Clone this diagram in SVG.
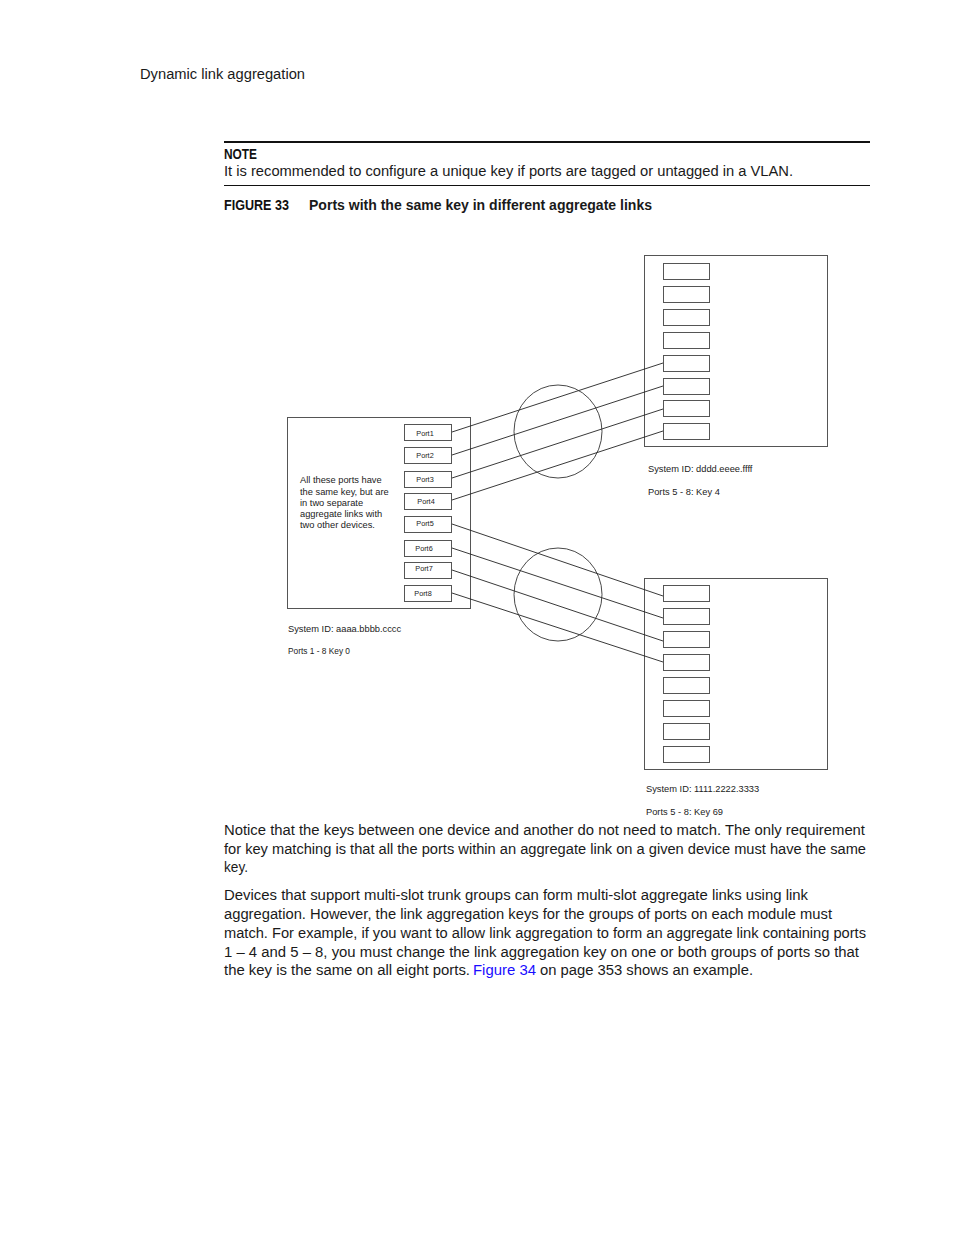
<svg xmlns="http://www.w3.org/2000/svg" width="954" height="1235" viewBox="0 0 954 1235">
<style>
.pg{font-family:"Liberation Sans",Arial,sans-serif;font-size:14px;fill:#1a1a1a}
.hd{font-family:"Liberation Sans Narrow","Liberation Sans",Arial,sans-serif;font-weight:bold;font-size:14px;fill:#111}
.sm{font-family:"Liberation Sans",Arial,sans-serif;font-size:9.3px;fill:#222}
.pl{font-family:"Liberation Sans",Arial,sans-serif;font-size:7.3px;fill:#222;text-anchor:middle}
.box{fill:#fff;stroke:#555;stroke-width:1}
.port{fill:#fff;stroke:#555;stroke-width:1}
.ln{stroke:#222;stroke-width:0.9;fill:none}
.lnk{fill:#1a0dff}
</style>
<rect width="954" height="1235" fill="#fff"/>
<text class="pg" x="140" y="79" textLength="165" lengthAdjust="spacingAndGlyphs">Dynamic link aggregation</text>
<line x1="224" y1="142" x2="870" y2="142" stroke="#111" stroke-width="2"/>
<text class="hd" x="224" y="159" textLength="33" lengthAdjust="spacingAndGlyphs">NOTE</text>
<text class="pg" x="224" y="176" textLength="569" lengthAdjust="spacingAndGlyphs">It is recommended to configure a unique key if ports are tagged or untagged in a VLAN.</text>
<line x1="224" y1="185.5" x2="870" y2="185.5" stroke="#111" stroke-width="1"/>
<text class="hd" x="224" y="210" textLength="65" lengthAdjust="spacingAndGlyphs">FIGURE 33</text>
<text class="pg" x="309" y="210" font-weight="bold" textLength="343" lengthAdjust="spacingAndGlyphs">Ports with the same key in different aggregate links</text>

<g id="left-device">
<rect class="box" x="287.5" y="417.5" width="183" height="191"/>
<text class="sm" x="300" y="483">All these ports have</text>
<text class="sm" x="300" y="494.5">the same key, but are</text>
<text class="sm" x="300" y="506">in two separate</text>
<text class="sm" x="300" y="517">aggregate links with</text>
<text class="sm" x="300" y="528">two other devices.</text>
<rect class="port" x="404.5" y="424.5" width="47" height="16"/><text class="pl" x="425" y="436">Port1</text>
<rect class="port" x="404.5" y="447.5" width="47" height="16"/><text class="pl" x="425" y="458">Port2</text>
<rect class="port" x="404.5" y="471.5" width="47" height="16"/><text class="pl" x="425" y="482">Port3</text>
<rect class="port" x="404.5" y="493.5" width="47" height="16"/><text class="pl" x="426" y="504">Port4</text>
<rect class="port" x="404.5" y="516.5" width="47" height="16"/><text class="pl" x="425" y="526">Port5</text>
<rect class="port" x="404.5" y="540.5" width="47" height="16"/><text class="pl" x="424" y="551">Port6</text>
<rect class="port" x="404.5" y="562.5" width="47" height="16"/><text class="pl" x="424" y="571">Port7</text>
<rect class="port" x="404.5" y="585.5" width="47" height="16"/><text class="pl" x="423" y="596">Port8</text>
<text class="sm" x="288" y="632">System ID: aaaa.bbbb.cccc</text>
<text class="sm" x="288" y="654" textLength="62" lengthAdjust="spacingAndGlyphs">Ports 1 - 8 Key 0</text>
</g>

<g id="top-device">
<rect class="box" x="644.5" y="255.5" width="183" height="191"/>
<rect class="port" x="663.5" y="263.5" width="46" height="16"/>
<rect class="port" x="663.5" y="286.5" width="46" height="16"/>
<rect class="port" x="663.5" y="309.5" width="46" height="16"/>
<rect class="port" x="663.5" y="332.5" width="46" height="16"/>
<rect class="port" x="663.5" y="355.5" width="46" height="16"/>
<rect class="port" x="663.5" y="378.5" width="46" height="16"/>
<rect class="port" x="663.5" y="400.5" width="46" height="16"/>
<rect class="port" x="663.5" y="423.5" width="46" height="16"/>
<text class="sm" x="648" y="472">System ID: dddd.eeee.ffff</text>
<text class="sm" x="648" y="495">Ports 5 - 8: Key 4</text>
</g>

<g id="bottom-device">
<rect class="box" x="644.5" y="578.5" width="183" height="191"/>
<rect class="port" x="663.5" y="585.5" width="46" height="16"/>
<rect class="port" x="663.5" y="608.5" width="46" height="16"/>
<rect class="port" x="663.5" y="631.5" width="46" height="16"/>
<rect class="port" x="663.5" y="654.5" width="46" height="16"/>
<rect class="port" x="663.5" y="677.5" width="46" height="16"/>
<rect class="port" x="663.5" y="700.5" width="46" height="16"/>
<rect class="port" x="663.5" y="723.5" width="46" height="16"/>
<rect class="port" x="663.5" y="746.5" width="46" height="16"/>
<text class="sm" x="646" y="792">System ID: 1111.2222.3333</text>
<text class="sm" x="646" y="815">Ports 5 - 8: Key 69</text>
</g>

<g id="connectors">
<line class="ln" x1="452" y1="432" x2="663" y2="363"/>
<line class="ln" x1="452" y1="455" x2="663" y2="386"/>
<line class="ln" x1="452" y1="478" x2="663" y2="409"/>
<line class="ln" x1="452" y1="500" x2="663" y2="431"/>
<line class="ln" x1="452" y1="524" x2="663" y2="596"/>
<line class="ln" x1="452" y1="548" x2="663" y2="618"/>
<line class="ln" x1="452" y1="570" x2="663" y2="641"/>
<line class="ln" x1="452" y1="593" x2="663" y2="662"/>
</g>
<g id="circles">
<ellipse cx="558" cy="431.5" rx="44" ry="46.5" fill="none" stroke="#333" stroke-width="0.9"/>
<ellipse cx="558" cy="594.5" rx="44" ry="46.5" fill="none" stroke="#333" stroke-width="0.9"/>
</g>

<g id="body">
<text class="pg" x="224" y="835" textLength="641" lengthAdjust="spacingAndGlyphs">Notice that the keys between one device and another do not need to match. The only requirement</text>
<text class="pg" x="224" y="854" textLength="642" lengthAdjust="spacingAndGlyphs">for key matching is that all the ports within an aggregate link on a given device must have the same</text>
<text class="pg" x="224" y="872" textLength="24" lengthAdjust="spacingAndGlyphs">key.</text>
<text class="pg" x="224" y="900" textLength="584" lengthAdjust="spacingAndGlyphs">Devices that support multi-slot trunk groups can form multi-slot aggregate links using link</text>
<text class="pg" x="224" y="919" textLength="608" lengthAdjust="spacingAndGlyphs">aggregation. However, the link aggregation keys for the groups of ports on each module must</text>
<text class="pg" x="224" y="938" textLength="642" lengthAdjust="spacingAndGlyphs">match. For example, if you want to allow link aggregation to form an aggregate link containing ports</text>
<text class="pg" x="224" y="957" textLength="635" lengthAdjust="spacingAndGlyphs">1 – 4 and 5 – 8, you must change the link aggregation key on one or both groups of ports so that</text>
<text class="pg" x="224" y="975"><tspan textLength="246" lengthAdjust="spacingAndGlyphs">the key is the same on all eight ports.</tspan><tspan class="lnk" x="473" textLength="63" lengthAdjust="spacingAndGlyphs">Figure 34</tspan><tspan x="540" textLength="213" lengthAdjust="spacingAndGlyphs">on page 353 shows an example.</tspan></text>
</g>
</svg>
